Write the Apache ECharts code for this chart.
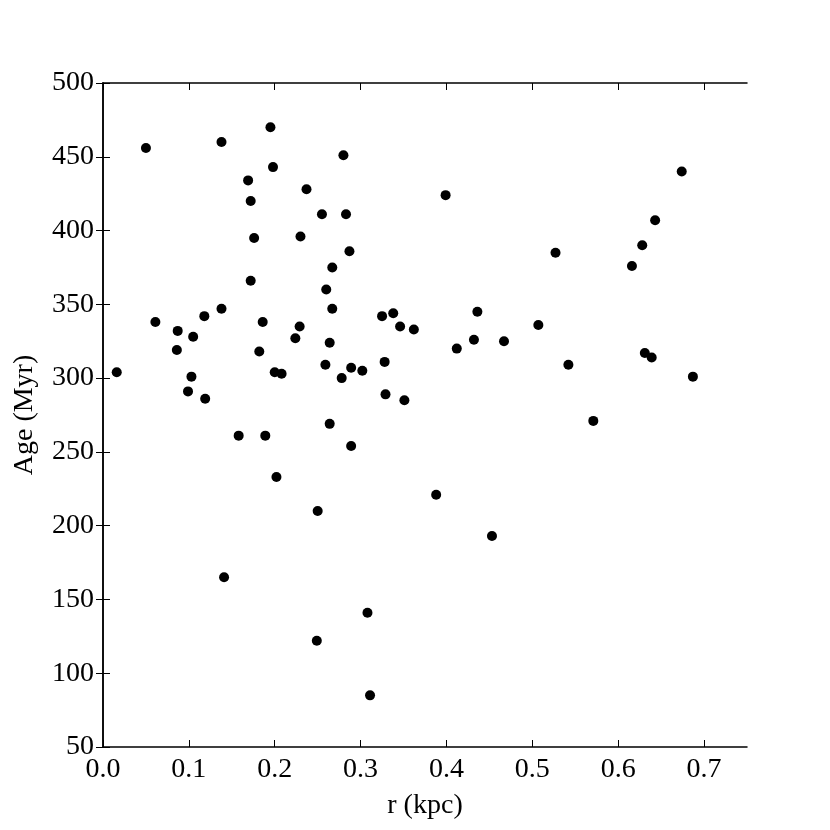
<!DOCTYPE html>
<html>
<head>
<meta charset="utf-8">
<script src="https://cdn.jsdelivr.net/npm/echarts@6/dist/echarts.min.js"></script>
<style>
  html, body { margin: 0; padding: 0; background: #fff; }
  #chart { width: 830px; height: 830px; }
</style>
</head>
<body>
<div id="chart"></div>
<script>
  // r (kpc) of each star cluster
  var rKpc = [
    0.050, 0.138, 0.195, 0.198, 0.280, 0.169, 0.172, 0.237, 0.255, 0.283,
    0.176, 0.230, 0.287, 0.267, 0.172, 0.260, 0.267, 0.138, 0.061, 0.087,
    0.105, 0.118, 0.086, 0.186, 0.229, 0.224, 0.182, 0.264, 0.325, 0.338,
    0.346, 0.362, 0.016, 0.103, 0.099, 0.119, 0.200, 0.208, 0.259, 0.278,
    0.289, 0.302, 0.328, 0.329, 0.351, 0.399, 0.674, 0.643, 0.628, 0.527,
    0.616, 0.436, 0.507, 0.412, 0.432, 0.467, 0.542, 0.631, 0.639, 0.687,
    0.158, 0.189, 0.264, 0.289, 0.202, 0.250, 0.141, 0.308, 0.249, 0.311,
    0.571, 0.388, 0.453
  ]
  // Age (Myr), same order
  var ageMyr = [
    456, 460, 470, 443, 451, 434, 420, 428, 411, 411,
    395, 396, 386, 375, 366, 360, 347, 347, 338, 332,
    328, 342, 319, 338, 335, 327, 318, 324, 342, 344,
    335, 333, 304, 301, 291, 286, 304, 303, 309, 300,
    307, 305, 311, 289, 285, 424, 440, 407, 390, 385,
    376, 345, 336, 320, 326, 325, 309, 317, 314, 301,
    261, 261, 269, 254, 233, 210, 165, 141, 122, 85,
    271, 221, 193
  ]
  var xTicks = [0, 0.1, 0.2, 0.3, 0.4, 0.5, 0.6, 0.7]

  var points = rKpc.map(function (r, i) { return [r, ageMyr[i]] })

  var font = 'Liberation Serif'
  var lineStyle = { color: '#000', width: 1.5 }
  var tick = { show: true, inside: true, length: 7, lineStyle: { color: '#000', width: 1 } }

  var myChart = echarts.init(document.getElementById('chart'))
  myChart.setOption({
    animation: false,
    backgroundColor: '#fff',
    grid: { left: 103, top: 83, right: 83, bottom: 83, outerBoundsMode: 'none', containLabel: false },
    xAxis: [
      {
        type: 'value', min: 0, max: 0.75, position: 'bottom',
        name: 'r (kpc)', nameLocation: 'middle', nameGap: 45,
        nameTextStyle: { fontFamily: font, fontSize: 28, color: '#000' },
        axisLine: { show: true, lineStyle: lineStyle },
        axisTick: Object.assign({ customValues: xTicks }, tick),
        axisLabel: {
          customValues: xTicks, margin: 9,
          fontFamily: font, fontSize: 28, color: '#000',
          formatter: function (v) { return v.toFixed(1) }
        },
        splitLine: { show: false }
      },
      {
        type: 'value', min: 0, max: 0.75, position: 'top',
        axisLine: { show: true, lineStyle: lineStyle },
        axisTick: Object.assign({ customValues: xTicks }, tick),
        axisLabel: { show: false },
        splitLine: { show: false }
      }
    ],
    yAxis: [
      {
        type: 'value', min: 50, max: 500, interval: 50, position: 'left',
        name: 'Age (Myr)', nameLocation: 'middle', nameGap: 64,
        nameTextStyle: { fontFamily: font, fontSize: 28, color: '#000' },
        axisLine: { show: true, lineStyle: lineStyle },
        axisTick: tick,
        axisLabel: { margin: 9, fontFamily: font, fontSize: 28, color: '#000' },
        splitLine: { show: false }
      },
      {
        type: 'value', min: 50, max: 500, interval: 50, position: 'right',
        axisLine: { show: true, lineStyle: lineStyle },
        axisTick: tick,
        axisLabel: { show: false },
        splitLine: { show: false }
      }
    ],
    series: [
      {
        type: 'scatter',
        xAxisIndex: 0,
        yAxisIndex: 0,
        symbol: 'circle',
        symbolSize: 10,
        itemStyle: { color: '#000', opacity: 1 },
        data: points
      }
    ]
  })
</script>
</body>
</html>
